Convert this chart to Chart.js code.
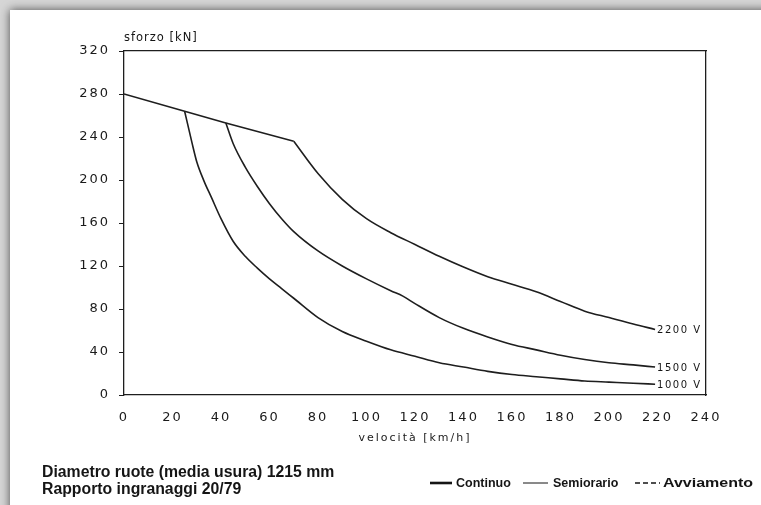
<!DOCTYPE html>
<html>
<head>
<meta charset="utf-8">
<script src="https://cdn.jsdelivr.net/npm/chart.js@4.4.1/dist/chart.umd.min.js"></script>
<style>
html,body{margin:0;padding:0;}
body{width:761px;height:505px;background:#d6d6d6;position:relative;overflow:hidden;}
#paper{position:absolute;left:10px;top:10px;width:800px;height:600px;background:#fff;box-shadow:0 0 9px rgba(0,0,0,0.65);}
#wrap{position:absolute;left:0;top:0;width:761px;height:505px;}
</style>
</head>
<body>
<div id="paper"></div>
<div id="wrap"><canvas id="c" width="761" height="505"></canvas></div>
<script>
// tratto comune (limite di aderenza)
let speedCommon=[0,25,42,70];
let forceCommon=[280,264,253,236];

// curve di trazione per tensione di linea
let speed2200=[70,80,90,100,110,120,130,140,150,160,170,180,190,200,210,219];
let force2200=[236,206,182,164,151,140,129,119,110,103,96,87,78,72,66,61];

let speed1500=[42,45,50,55,60,65,70,80,90,100,110,115,120,130,140,150,160,170,180,190,200,210,219];
let force1500=[253,234,212,194,178,164,152,134,120,108,97,92,85,72,62,54,47,42,37,33,30,28,26];

let speed1000=[25,28,30,33,36,40,45,50,55,60,65,70,80,90,100,110,120,130,140,150,160,170,180,190,200,210,219];
let force1000=[264,235,217,199,184,164,143,129,118,108,99,90,72,59,50,42,36,30,26,22,19,17,15,13,12,11,10];

let curveLabels=["2200 V","1500 V","1000 V"];

function pts(xs,ys){
return xs.map(function(v,i){ return {x:v,y:ys[i]}; });
}

function lineSet(xs,ys,smooth){
return {
data:pts(xs,ys),
borderColor:"#1e1e1e",
borderWidth:1.6,
pointRadius:0,
fill:false,
tension:smooth?0.4:0,
cubicInterpolationMode:smooth?"monotone":"default"
};
}

let curves=[[speed2200,force2200],[speed1500,force1500],[speed1000,force1000]];

const notes={
id:"notes",
beforeDraw(chart){
chart.ctx.letterSpacing="2px";
},
afterDraw(chart){
let ctx=chart.ctx;
let xs=chart.scales.x, ys=chart.scales.y;
ctx.save();
ctx.fillStyle="#151515";
ctx.strokeStyle="#151515";

/* titolo asse y */
ctx.letterSpacing="1px";
ctx.font='11.5px "DejaVu Sans"';
ctx.textAlign="left";
ctx.textBaseline="middle";
ctx.fillText("sforzo [kN]",chart.chartArea.left,38);

/* etichette curve */
ctx.letterSpacing="1.5px";
ctx.font='10px "DejaVu Sans"';
curves.forEach(function(c,i){
let sp=c[0], fo=c[1];
ctx.fillText(curveLabels[i],xs.getPixelForValue(sp[sp.length-1])+2,ys.getPixelForValue(fo[fo.length-1])+1);
});

/* note in basso */
ctx.letterSpacing="0px";
ctx.font='bold 15.8px "Liberation Sans"';
ctx.textBaseline="alphabetic";
ctx.fillText("Diametro ruote (media usura) 1215 mm",42,477);
ctx.fillText("Rapporto ingranaggi 20/79",42,494);

/* legenda */
ctx.font='bold 12.5px "Liberation Sans"';
ctx.textBaseline="middle";
ctx.lineWidth=2.6;
ctx.beginPath();ctx.moveTo(430,483);ctx.lineTo(452,483);ctx.stroke();
ctx.fillText("Continuo",456,484);
ctx.lineWidth=1;
ctx.beginPath();ctx.moveTo(523,483);ctx.lineTo(548,483);ctx.stroke();
ctx.fillText("Semiorario",553,484);
ctx.lineWidth=1.6;
ctx.setLineDash([5,3]);
ctx.beginPath();ctx.moveTo(635,483);ctx.lineTo(660,483);ctx.stroke();
ctx.setLineDash([]);
ctx.translate(663,484);
ctx.scale(1.28,1);
ctx.fillText("Avviamento",0,0);
ctx.restore();
}
};

new Chart(document.getElementById("c"),{
type:"line",
data:{
datasets:[
lineSet(speedCommon,forceCommon,false),
lineSet(speed2200,force2200,true),
lineSet(speed1500,force1500,true),
lineSet(speed1000,force1000,true)
]
},
options:{
responsive:false,
animation:false,
events:[],
layout:{padding:{top:51,right:55,bottom:60,left:0}},
plugins:{legend:{display:false},tooltip:{enabled:false}},
scales:{
x:{
type:"linear",
min:0,max:240,
grid:{display:false,drawTicks:false},
border:{display:true,color:"#1e1e1e",width:1.3},
ticks:{stepSize:20,padding:15,color:"#1a1a1a",font:{family:"DejaVu Sans",size:13}},
title:{display:true,text:"velocità [km/h]",color:"#1a1a1a",font:{family:"DejaVu Sans",size:11},padding:{top:0,bottom:0}},
afterFit:function(scale){scale.height=50;}
},
y:{
min:0,max:320,
grid:{drawOnChartArea:false,drawTicks:true,tickLength:5,color:"#1e1e1e"},
border:{display:true,color:"#1e1e1e",width:1.3},
ticks:{stepSize:40,padding:9,color:"#1a1a1a",font:{family:"DejaVu Sans",size:13}},
afterFit:function(scale){scale.width=124;}
},
xTop:{
type:"linear",position:"top",min:0,max:240,
grid:{display:false,drawTicks:false},
border:{display:true,color:"#1e1e1e",width:1.3},
ticks:{display:false}
},
yRight:{
position:"right",min:0,max:320,
grid:{display:false,drawTicks:false},
border:{display:true,color:"#1e1e1e",width:1.3},
ticks:{display:false}
}
}
},
plugins:[notes]
});
</script>
</body>
</html>
